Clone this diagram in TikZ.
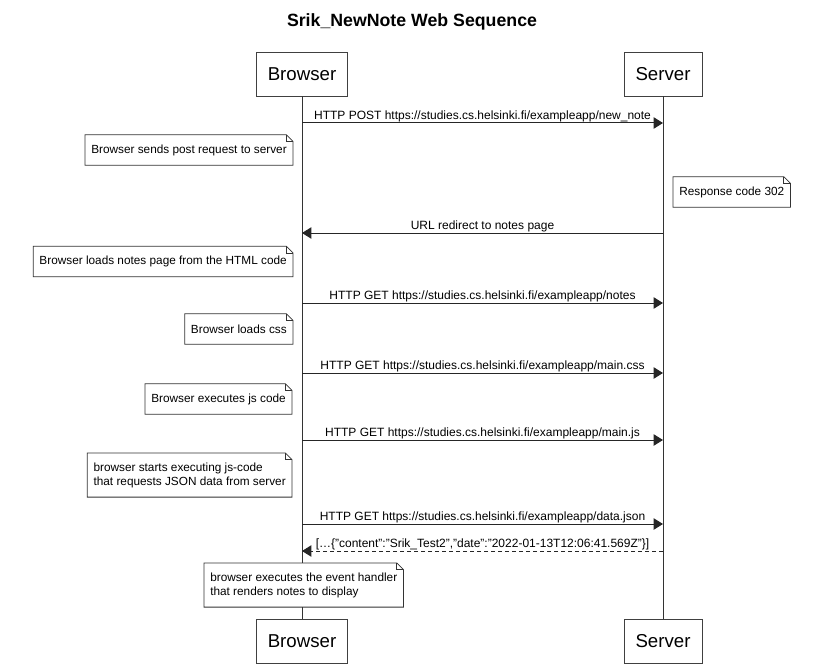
\documentclass[tikz,border=0pt]{standalone}
\usepackage{fontspec}
\setmainfont{Liberation Sans}
\usetikzlibrary{arrows.meta, positioning}

\begin{document}
\begin{tikzpicture}[x=0.75pt, y=-0.75pt,
    actor/.style={draw=black!75, fill=white, rectangle, minimum height=33pt, inner xsep=8.5pt, font=\fontsize{14}{16}\selectfont},
    lifeline/.style={draw=black!80, line width=0.75pt},
    msg/.style={-{Triangle[length=7pt, width=8.5pt]}, line width=0.75pt, black!85},
    reply/.style={msg, dash pattern=on 3pt off 2.25pt},
    lbl/.style={font=\fontsize{9}{10}\selectfont, above, inner sep=0.5pt, text=black},
    note/.style={fill=white, rectangle, align=left, inner xsep=4.5pt, inner ysep=7pt, minimum height=22.5pt, font=\fontsize{8.85}{10.5}\selectfont},
    fold/.style={draw=black!80, line width=0.6pt}
]
\useasboundingbox (0,0) rectangle (823,670);

\node[font=\bfseries\fontsize{13.3}{15}\selectfont] (title) at (412,22) {Srik\_NewNote Web Sequence};

% participants
\node[actor] (bt) at (302,74) {Browser};
\node[actor] (st) at (663,74) {Server};
\node[actor] (bb) at (302,641) {Browser};
\node[actor] (sb) at (663,641) {Server};

\draw[lifeline] (bt) -- (bb);
\draw[lifeline] (st) -- (sb);

% points on the lifelines
\coordinate (b1) at (302,123); \coordinate (s1) at (663,123);
\coordinate (b2) at (302,233); \coordinate (s2) at (663,233);
\coordinate (b3) at (302,303); \coordinate (s3) at (663,303);
\coordinate (b4) at (302,373); \coordinate (s4) at (663,373);
\coordinate (b5) at (302,440); \coordinate (s5) at (663,440);
\coordinate (b6) at (302,524); \coordinate (s6) at (663,524);
\coordinate (b7) at (302,551); \coordinate (s7) at (663,551);

\draw[msg] (b1) -- node[lbl] {HTTP POST https://studies.cs.helsinki.fi/exampleapp/new\_note} (s1);
\draw[msg] (s2) -- node[lbl] {URL redirect to notes page} (b2);
\draw[msg] (b3) -- node[lbl] {HTTP GET https://studies.cs.helsinki.fi/exampleapp/notes} (s3);
\draw[msg] (b4) -- node[lbl] {HTTP GET https://studies.cs.helsinki.fi/exampleapp/main.css} (s4);
\draw[msg] (b5) -- node[lbl] {HTTP GET https://studies.cs.helsinki.fi/exampleapp/main.js} (s5);
\draw[msg] (b6) -- node[lbl] {HTTP GET https://studies.cs.helsinki.fi/exampleapp/data.json} (s6);
\draw[reply] (s7) -- node[lbl] {[…\{"content":"Srik\_Test2","date":"2022-01-13T12:06:41.569Z"\}]} (b7);

% notes
\node[note, anchor=east] (n1) at (293,150) {Browser sends post request to server};
\node[note, anchor=west] (n2) at (673,192) {Response code 302};
\node[note, anchor=east] (n3) at (293,261.5) {Browser loads notes page from the HTML code};
\node[note, anchor=east] (n4) at (293,329) {Browser loads css};
\node[note, anchor=east] (n5) at (292,399) {Browser executes js code};
\node[note, anchor=east] (n6) at (292,475) {browser starts executing js-code\\that requests JSON data from server};
\node[note, anchor=west] (n7) at (204,585) {browser executes the event handler\\that renders notes to display};

\foreach \n in {n1,n2,n3,n4,n5,n6,n7} {
  \draw[fold] (\n.north west) -- ([xshift=-5pt]\n.north east) -- ([yshift=-5pt]\n.north east) -- (\n.south east) -- (\n.south west) -- cycle;
  \draw[fold] ([xshift=-5pt]\n.north east) |- ([yshift=-5pt]\n.north east);
}
\end{tikzpicture}
\end{document}
